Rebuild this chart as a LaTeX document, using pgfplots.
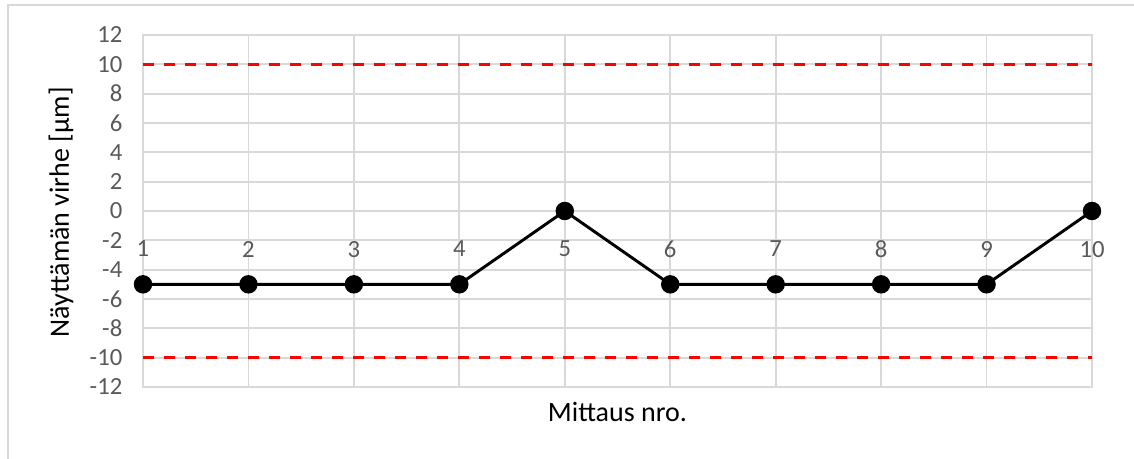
\documentclass[border=0pt]{standalone}
\usepackage{pgfplots}
\pgfplotsset{compat=1.18}
\usepackage{fontspec}
\setmainfont{Carlito}
\definecolor{gridgray}{HTML}{D9D9D9}
\definecolor{ticktext}{HTML}{595959}
\begin{document}
\begin{tikzpicture}
\path[use as bounding box] (0,0) rectangle (850.5pt,344.25pt);
\draw[gridgray, line width=1.2pt] (6pt,0) -- (6pt,340.5pt) -- (850.5pt,340.5pt);
\begin{axis}[
  at={(107.25pt,54pt)}, anchor=south west,
  scale only axis, width=711.75pt, height=264pt,
  xmin=1, xmax=10, ymin=-12, ymax=12,
  xtick={1,...,10}, ytick={-12,-10,...,12},
  grid=major, major grid style={gridgray, line width=1.3pt},
  axis line style={gridgray, line width=1.3pt},
  tick style={draw=none},
  tick label style={font=\fontsize{18.5}{20}\selectfont, text=ticktext},
  /pgf/number format/assume math mode=true,
  yticklabel style={xshift=-12pt},
  xticklabel style={yshift=113pt},
  clip=false,
]
\addplot[red, line width=2.5pt, dash pattern=on 8.25pt off 7.5pt] coordinates {(1,10) (10,10)};
\addplot[red, line width=2.5pt, dash pattern=on 8.25pt off 7.5pt] coordinates {(1,-10) (10,-10)};
\addplot[black, line width=2.2pt, mark=*, mark size=5.8pt, mark options={fill=black}] coordinates {
(1,-5) (2,-5) (3,-5) (4,-5) (5,0) (6,-5) (7,-5) (8,-5) (9,-5) (10,0)};
\end{axis}
\node[rotate=90, font=\fontsize{21}{24}\selectfont] at (45.75pt,184.9pt) {Näyttämän virhe [µm]};
\node[font=\fontsize{21}{24}\selectfont] at (463.1pt,35.6pt) {Mittaus nro.};
\end{tikzpicture}
\end{document}
